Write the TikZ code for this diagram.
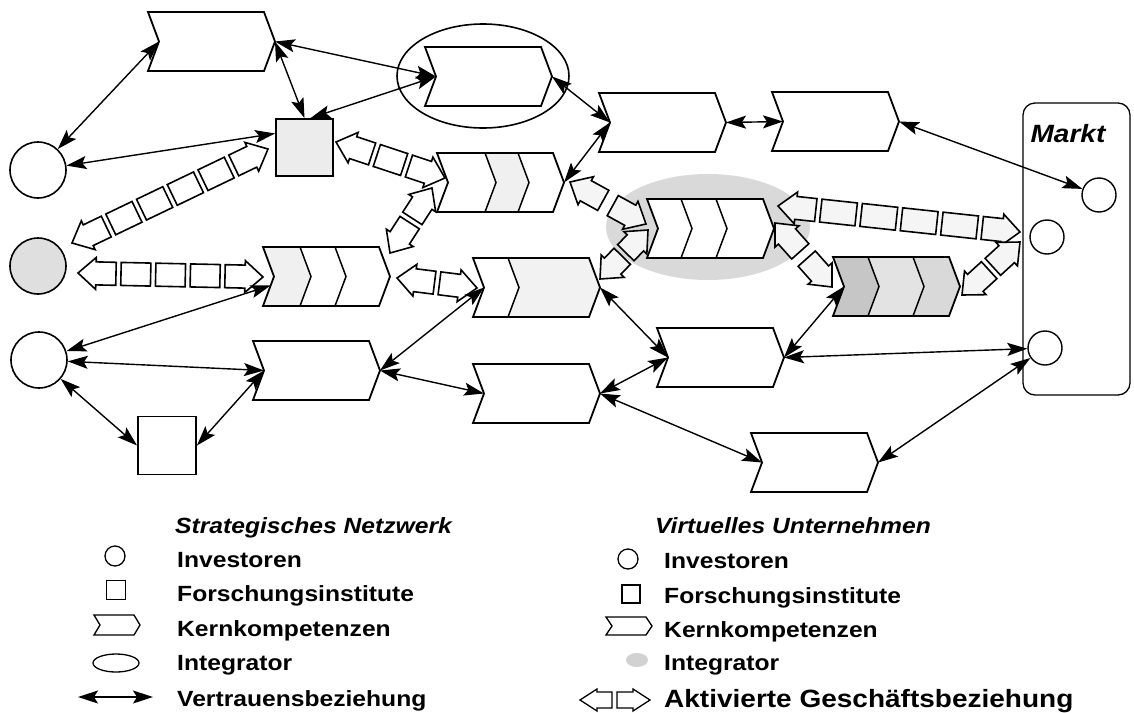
\documentclass[tikz,border=0pt]{standalone}
\usepackage{fontspec}
\setmainfont{Liberation Sans}[FakeStretch=1.12]
\usetikzlibrary{arrows.meta,calc,shapes.geometric}

\newdimen\bzdx
\newdimen\bzdy

\tikzset{
  outline/.style={draw=black, line width=1.8pt, line join=miter},
  divider/.style={draw=black, line width=1.5pt},
  trust/.style={line width=1.4pt,
    {Stealth[length=20pt,width=13pt,inset=4pt]}-{Stealth[length=20pt,width=13pt,inset=4pt]}},
  bizshape/.style={draw=black, fill=white, line width=1.6pt, line join=miter},
  investor/.style={circle, draw, line width=1.6pt, minimum size=56pt, inner sep=0pt, fill=white},
  marketinv/.style={circle, draw, line width=1.4pt, minimum size=34pt, inner sep=0pt, fill=white},
  institute/.style={rectangle, draw, line width=1.8pt, minimum size=58pt, inner sep=0pt, fill=white},
  chevframe/.style={rectangle, minimum width=127pt, minimum height=59pt, inner sep=0pt},
  legendtext/.style={anchor=base west, font=\fontsize{22}{26}\selectfont\bfseries, inner sep=0pt},
  legendtitle/.style={anchor=base west, font=\fontsize{22}{26}\selectfont\bfseries\itshape, inner sep=0pt},
}

% core competence chevron: name, left, top (body 116 wide, 59 high, point depth 11)
\newcommand\kchev[3]{%
  \node[chevframe] (#1) at (#2+63.5,#3+29.5) {};
  \coordinate (#1-tip) at (#2+127,#3+29.5);
  \coordinate (#1-notch) at (#2+11,#3+29.5);
  \fill[white] (#2,#3) -- (#2+116,#3) -- (#2+127,#3+29.5) -- (#2+116,#3+59)
     -- (#2,#3+59) -- (#2+11,#3+29.5) -- cycle;}
% shaded segment of a chevron: left, top, from, to, colour
\newcommand\chevseg[5]{%
  \fill[#5] (#1+#3,#2) -- (#1+#4,#2) -- (#1+#4+11,#2+29.5) -- (#1+#4,#2+59)
     -- (#1+#3,#2+59) -- (#1+#3+11,#2+29.5) -- cycle;}
\newcommand\chevdiv[3]{%
  \draw[divider] (#1+#3,#2) -- (#1+#3+11,#2+29.5) -- (#1+#3,#2+59);}
\newcommand\chevedge[2]{%
  \draw[outline] (#1,#2) -- (#1+116,#2) -- (#1+127,#2+29.5) -- (#1+116,#2+59)
     -- (#1,#2+59) -- (#1+11,#2+29.5) -- cycle;}

% activated business link: two block arrow heads with boxes between them
% [fill], from, to, number of boxes
\newcommand\bizlink[4][white]{%
  \pgfextractx{\bzdx}{\pgfpointdiff{\pgfpointanchor{#2}{center}}{\pgfpointanchor{#3}{center}}}%
  \pgfextracty{\bzdy}{\pgfpointdiff{\pgfpointanchor{#2}{center}}{\pgfpointanchor{#3}{center}}}%
  \pgfmathsetmacro\bzang{atan2(\bzdy,\bzdx)}%
  \pgfmathsetmacro\bzlen{veclen(\bzdx,\bzdy)}%
  \pgfmathsetmacro\bzhead{min(38,(\bzlen-5)/2)}%
  \begin{scope}[shift={(#2)},rotate=\bzang]
    \draw[bizshape, fill=#1] (0,0) -- (18,16) -- (18,11.5) -- (\bzhead,11.5) -- (\bzhead,-11.5)
       -- (18,-11.5) -- (18,-16) -- cycle;
    \draw[bizshape, fill=#1] (\bzlen,0) -- (\bzlen-18,16) -- (\bzlen-18,11.5) -- (\bzlen-\bzhead,11.5)
       -- (\bzlen-\bzhead,-11.5) -- (\bzlen-18,-11.5) -- (\bzlen-18,-16) -- cycle;
    \ifnum#4>0
      \pgfmathsetmacro\bzw{(\bzlen-2*\bzhead-(#4+1)*5)/#4}%
      \foreach \i in {1,...,#4}{
        \draw[bizshape, fill=#1] ({\bzhead+5+(\i-1)*(\bzw+5)},-11.5) rectangle ++(\bzw,23);
      }
    \fi
  \end{scope}}

\begin{document}
\begin{tikzpicture}[x=1pt,y=-1pt]
\useasboundingbox[fill=white] (0,0) rectangle (1134,712);

% integrator of the virtual enterprise (grey halo) and of the network (ring)
\node[ellipse, fill=gray!30, minimum width=204pt, minimum height=106pt, inner sep=0pt] (vint) at (708,227) {};
\node[ellipse, draw, line width=1.6pt, minimum width=172pt, minimum height=104pt, inner sep=0pt] (sint) at (483,76) {};

% market
\node[draw, rounded corners=12pt, line width=1.3pt, minimum width=107pt, minimum height=292pt,
      inner sep=0pt] (markt) at (1076.5,249) {};
\node[anchor=base, inner sep=0pt, font=\fontsize{25}{30}\selectfont\bfseries\itshape] (markttext) at (1068,142) {Markt};
\node[marketinv] (M1) at (1099,195) {};
\node[marketinv] (M2) at (1047,237) {};
\node[marketinv] (M3) at (1045,348) {};

% investors and research institutes
\node[investor] (C1) at (38,170) {};
\node[investor, fill=gray!25] (C2) at (38,266) {};
\node[investor] (C3) at (39,360) {};
\node[institute, minimum size=57pt, fill=gray!15] (S1) at (304.5,147.5) {};
\node[institute] (S2) at (167,445.5) {};

% end points of the activated business links
\coordinate (b1a) at (72,243);   \coordinate (b1b) at (268,149);
\coordinate (b2a) at (78,273);   \coordinate (b2b) at (263,277);
\coordinate (b3a) at (336,142);  \coordinate (b3b) at (445,178);
\coordinate (b4a) at (432,188);  \coordinate (b4b) at (390,253);
\coordinate (b5a) at (397,278);  \coordinate (b5b) at (477,288);
\coordinate (b6a) at (570,182);  \coordinate (b6b) at (646,224);
\coordinate (b7a) at (648,230);  \coordinate (b7b) at (600,279);
\coordinate (b8a) at (778,206);  \coordinate (b8b) at (1020,232);
\coordinate (b9a) at (775,223);  \coordinate (b9b) at (832,287);
\coordinate (b10a) at (962,295); \coordinate (b10b) at (1020,242);

\bizlink{b1a}{b1b}{4}
\bizlink{b2a}{b2b}{3}
\bizlink{b3a}{b3b}{1}
\bizlink{b4a}{b4b}{0}
\bizlink{b5a}{b5b}{0}
\bizlink[gray!8]{b6a}{b6b}{0}
\bizlink[gray!8]{b7a}{b7b}{0}
\bizlink[gray!8]{b8a}{b8b}{4}
\bizlink[gray!8]{b9a}{b9b}{0}
\bizlink[gray!8]{b10a}{b10b}{0}

% core competences
\kchev{A}{148}{12}  \chevedge{148}{12}
\kchev{B}{425}{47}  \chevedge{425}{47}
\kchev{C}{599}{93}  \chevedge{599}{93}
\kchev{D}{772}{92}  \chevedge{772}{92}

\kchev{E}{437}{153}
\chevseg{437}{153}{48}{81}{gray!12}
\chevdiv{437}{153}{48} \chevdiv{437}{153}{81}
\chevedge{437}{153}

\kchev{F}{647}{199}
\chevdiv{647}{199}{34} \chevdiv{647}{199}{69}
\chevedge{647}{199}

\kchev{G}{833}{257}
\chevseg{833}{257}{0}{35}{gray!45}
\chevseg{833}{257}{35}{80}{gray!22}
\chevseg{833}{257}{80}{116}{gray!30}
\chevdiv{833}{257}{35} \chevdiv{833}{257}{80}
\chevedge{833}{257}

\kchev{H}{263}{247}
\chevseg{263}{247}{0}{37}{gray!12}
\chevdiv{263}{247}{37} \chevdiv{263}{247}{72}
\chevedge{263}{247}

\kchev{I}{473}{258}
\chevseg{473}{258}{35}{116}{gray!10}
\chevdiv{473}{258}{35}
\chevedge{473}{258}

\kchev{J}{253}{341} \chevedge{253}{341}
\kchev{K}{473}{364} \chevedge{473}{364}
\kchev{L}{657}{328} \chevedge{657}{328}
\kchev{M}{751}{433} \chevedge{751}{433}

% trust relationships
\draw[trust] (A-notch) -- (C1);
\draw[trust] (A-tip) -- (S1.north);
\draw[trust] (A-tip) -- (B-notch);
\draw[trust] (B-notch) -- ([xshift=6pt]S1.north);
\draw[trust] ([yshift=14pt]S1.west) -- (C1);
\draw[trust] (B-tip) -- (C-notch);
\draw[trust] (C-notch) -- (E-tip);
\draw[trust] (C-tip) -- (D-notch);
\draw[trust] (D-tip) -- (M1);
\draw[trust] (C3) -- ($(H-notch)!0.3!(H.south west)$);
\draw[trust] (C3) -- (J-notch);
\draw[trust] (C3) -- (S2.west);
\draw[trust] (S2.east) -- (J-notch);
\draw[trust] (J-tip) -- (I-notch);
\draw[trust] (J-tip) -- (K-notch);
\draw[trust] (I-tip) -- (L-notch);
\draw[trust] (K-tip) -- (L-notch);
\draw[trust] (K-tip) -- (M-notch);
\draw[trust] (L-tip) -- (G-notch);
\draw[trust] (L-tip) -- (M3);
\draw[trust] (M-tip) -- (M3);

% legend: strategic network
\node[legendtitle] (lt1) at (175,533) {Strategisches Netzwerk};
\node[circle, draw, line width=1.3pt, minimum size=20pt, inner sep=0pt] (lc1) at (115,556) {};
\node[rectangle, draw, line width=1.3pt, minimum size=19pt, inner sep=0pt] (ls1) at (116,590) {};
\draw[line width=1.3pt] (94,615) -- (134,615) -- (140,625) -- (134,635) -- (94,635) -- (100,625) -- cycle;
\node[ellipse, draw, line width=1.3pt, minimum width=46pt, minimum height=18pt, inner sep=0pt] (le1) at (116,663) {};
\coordinate (la1) at (78,697); \coordinate (la2) at (153,697);
\draw[trust] (la1) -- (la2);
\node[legendtext] (l11) at (177,567) {Investoren};
\node[legendtext] (l12) at (177,601) {Forschungsinstitute};
\node[legendtext] (l13) at (177,636) {Kernkompetenzen};
\node[legendtext] (l14) at (177,670) {Integrator};
\node[legendtext] (l15) at (177,706) {Vertrauensbeziehung};

% legend: virtual enterprise
\node[legendtitle] (lt2) at (655,533) {Virtuelles Unternehmen};
\node[circle, draw, line width=1.3pt, minimum size=20pt, inner sep=0pt] (lc2) at (628,559) {};
\node[rectangle, draw, line width=1.3pt, minimum size=18pt, inner sep=0pt] (ls2) at (631,594) {};
\draw[line width=1.3pt] (606,617) -- (646,617) -- (652,626) -- (646,635) -- (606,635) -- (612,626) -- cycle;
\node[ellipse, fill=gray!35, minimum width=22pt, minimum height=14pt, inner sep=0pt] (le2) at (637,660) {};
\draw[bizshape, line width=1.3pt] (580,700) -- (597,689) -- (597,692) -- (612,692) -- (612,708)
   -- (597,708) -- (597,711) -- cycle;
\draw[bizshape, line width=1.3pt] (650,700) -- (633,689) -- (633,692) -- (617,692) -- (617,708)
   -- (633,708) -- (633,711) -- cycle;
\node[legendtext] (l21) at (664,568) {Investoren};
\node[legendtext] (l22) at (664,603) {Forschungsinstitute};
\node[legendtext] (l23) at (664,637) {Kernkompetenzen};
\node[legendtext] (l24) at (664,670) {Integrator};
\node[legendtext, font=\fontsize{25}{28}\selectfont\bfseries] (l25) at (664,707) {Aktivierte Geschäftsbeziehung};
\end{tikzpicture}
\end{document}
